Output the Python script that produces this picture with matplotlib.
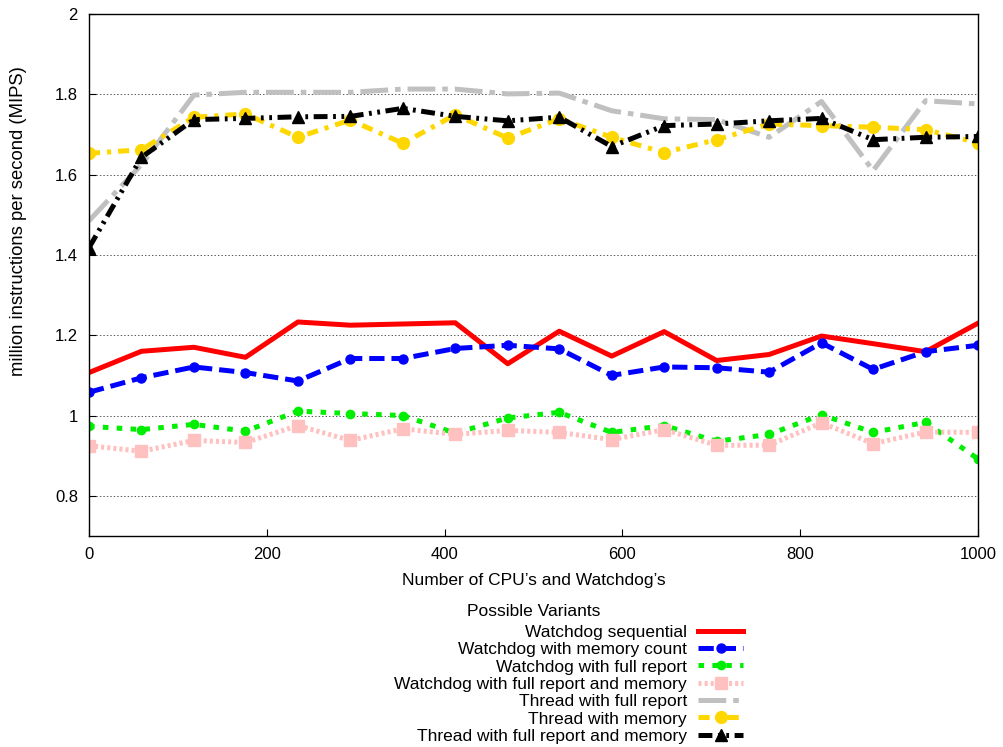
import numpy as np
import matplotlib
matplotlib.use("Agg")
import matplotlib.pyplot as plt
from matplotlib.ticker import FuncFormatter

plt.rcParams['font.family'] = ['Liberation Sans', 'DejaVu Sans']
plt.rcParams['lines.scale_dashes'] = False

# number of CPU's / watchdogs
cpus = [0, 59, 118, 176, 235, 294, 353, 412, 471, 529, 588, 647, 706, 765, 824, 882, 941, 1000]

wd_seq = [1.107, 1.160, 1.170, 1.145, 1.233, 1.225, 1.228, 1.231, 1.129, 1.210,
          1.148, 1.209, 1.137, 1.152, 1.198, 1.179, 1.159, 1.230]
wd_mem = [1.058, 1.094, 1.121, 1.107, 1.086, 1.142, 1.142, 1.167, 1.175, 1.166,
          1.100, 1.121, 1.119, 1.108, 1.181, 1.115, 1.159, 1.175]
wd_full = [0.973, 0.965, 0.978, 0.961, 1.011, 1.005, 1.000, 0.956, 0.994, 1.008,
           0.958, 0.975, 0.936, 0.953, 1.002, 0.958, 0.983, 0.892]
wd_full_mem = [0.925, 0.911, 0.938, 0.933, 0.975, 0.938, 0.967, 0.953, 0.963, 0.958,
               0.940, 0.965, 0.926, 0.926, 0.982, 0.930, 0.959, 0.958]
th_full = [1.485, 1.625, 1.798, 1.805, 1.805, 1.805, 1.813, 1.813, 1.801, 1.803,
           1.759, 1.739, 1.737, 1.693, 1.782, 1.610, 1.784, 1.776]
th_mem = [1.653, 1.662, 1.743, 1.751, 1.693, 1.736, 1.678, 1.749, 1.691, 1.739,
          1.693, 1.655, 1.687, 1.726, 1.722, 1.718, 1.712, 1.679]
th_full_mem = [1.418, 1.643, 1.737, 1.740, 1.744, 1.745, 1.765, 1.745, 1.734, 1.743,
               1.670, 1.722, 1.726, 1.734, 1.740, 1.687, 1.693, 1.695]

fig = plt.figure(figsize=(10.04, 7.47), dpi=100)
ax = fig.add_axes([89/1004, 1 - 536/747, (978-89)/1004, (536-14)/747])

lw = 3.6
ax.plot(cpus, wd_seq, color='#ff0000', lw=lw, label='Watchdog sequential')
ax.plot(cpus, wd_mem, color='#0000ff', lw=lw, dashes=(11, 5), marker='o', ms=6.5,
        label='Watchdog with memory count')
ax.plot(cpus, wd_full, color='#00ee00', lw=lw, dashes=(4, 6), marker='o', ms=6,
        label='Watchdog with full report')
ax.plot(cpus, wd_full_mem, color='#ffc0c0', lw=lw, dashes=(2.2, 2.2), marker='s', ms=8,
        label='Watchdog with full report and memory')
ax.plot(cpus, th_full, color='#c0c0c0', lw=lw, dashes=(20, 5, 4, 5),
        label='Thread with full report')
ax.plot(cpus, th_mem, color='#ffd700', lw=lw, dashes=(8, 5, 3, 5), marker='o', ms=8.5,
        label='Thread with memory')
ax.plot(cpus, th_full_mem, color='black', lw=lw, dashes=(10, 4, 2, 4, 2, 4), marker='^', ms=9,
        label='Thread with full report and memory')

ax.set_xlim(0, 1000)
ax.set_ylim(0.7, 2.0)
ax.set_xticks([0, 200, 400, 600, 800, 1000])
ax.set_yticks([0.8, 1.0, 1.2, 1.4, 1.6, 1.8, 2.0])
ax.yaxis.set_major_formatter(FuncFormatter(lambda v, p: '%g' % v))
ax.tick_params(direction='in', labelsize=12, length=5, pad=8)
ax.yaxis.grid(True, color='#555555', lw=0.7, linestyle=(0, (1, 1.5)))
for s in ax.spines.values():
    s.set_linewidth(1.0)

ax.set_xlabel("Number of CPU\u2019s and Watchdog\u2019s", fontsize=12.5, labelpad=8)
ax.set_ylabel('million instructions per second (MIPS)', fontsize=13.3)
ax.yaxis.set_label_coords((27 - 89) / 889, (536 - 221) / 522)

fig.text(467/1004, 1 - 611/747, 'Possible Variants', fontsize=12.5, va='center', ha='left')
leg = ax.legend(loc='upper right', bbox_to_anchor=(752/1004, 1 - 616/747),
                bbox_transform=fig.transFigure, frameon=False, markerfirst=False,
                fontsize=12.5, borderpad=0, labelspacing=0.126, handlelength=2.6,
                handletextpad=0.65)
for t in leg.get_texts():
    t.set_ha('right')
leg._legend_box.align = 'right'
for vp in leg._legend_box.get_children()[1].get_children():
    vp.align = 'right'

fig.savefig('out.png', dpi=100)
